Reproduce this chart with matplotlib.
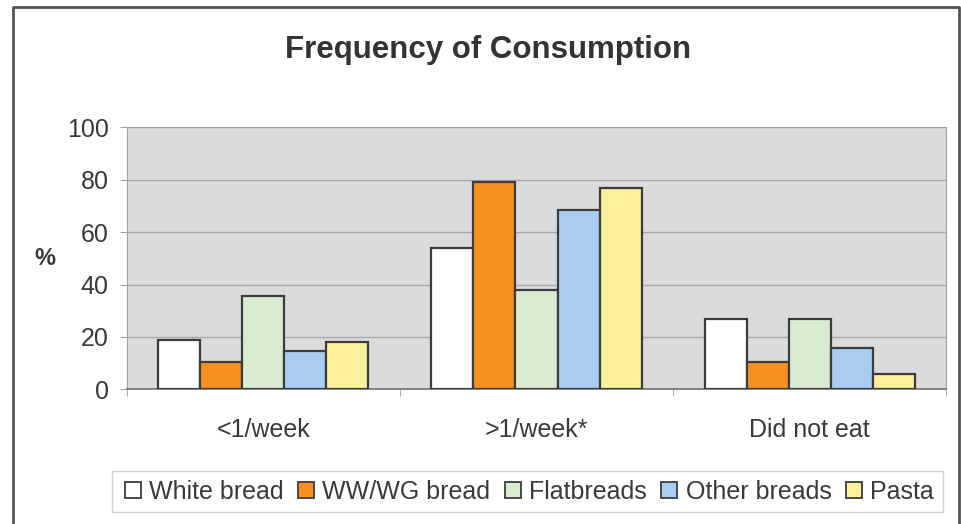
import matplotlib.pyplot as plt
import numpy as np
from matplotlib.lines import Line2D

plt.rcParams['font.family'] = ['Liberation Sans', 'DejaVu Sans']

categories = ['<1/week', '>1/week*', 'Did not eat']
series = ['White bread', 'WW/WG bread', 'Flatbreads', 'Other breads', 'Pasta']
white_bread = [19, 54, 27]
ww_wg_bread = [10.5, 79, 10.5]
flatbreads = [35.5, 38, 27]
other_breads = [14.8, 68.5, 15.7]
pasta = [18, 76.8, 5.8]
values = [white_bread, ww_wg_bread, flatbreads, other_breads, pasta]
colors = ['#ffffff', '#f7901e', '#d9ebd1', '#a8cdef', '#fbf09c']

text_col = '#3a3a3a'

fig = plt.figure(figsize=(9.62, 5.24), dpi=100)
ax = fig.add_axes([0.1317, 0.257, 0.852, 0.5])
ax.set_facecolor('#dcdbdb')

x = np.arange(len(categories))
w = 0.154
for j, (name, vals, c) in enumerate(zip(series, values, colors)):
    ax.bar(x + (j - 2) * w, vals, width=w, color=c, edgecolor='#3c3c3c',
           linewidth=1.6, label=name, zorder=3)

ax.set_xlim(-0.5, 2.5)
ax.set_ylim(0, 100)
ax.set_yticks(range(0, 101, 20))
ax.yaxis.grid(True, color='#a9a9a9', linewidth=1.0, zorder=0)
ax.set_xticks(x)
ax.set_xticklabels(categories, fontsize=18, color=text_col)
ax.set_xticks([-0.5, 0.5, 1.5, 2.5], minor=True)
ax.tick_params(axis='x', which='major', length=0, pad=21)
ax.tick_params(axis='x', which='minor', length=5, color='#a0a0a0')
ax.tick_params(axis='y', length=5, color='#a0a0a0', labelsize=18,
               labelcolor=text_col, pad=8)
for s in ['top', 'right', 'left']:
    ax.spines[s].set_color('#a0a0a0')
ax.spines['bottom'].set_color('#707070')
ax.spines['bottom'].set_linewidth(1.2)

ax.set_ylabel('%', rotation=0, fontsize=17, fontweight='bold',
              color=text_col, labelpad=16, va='center')

fig.text(0.507, 1 - 58 / 524, 'Frequency of Consumption', ha='center',
         va='baseline', fontsize=22.5, fontweight='bold', color='#333333')

handles = [Line2D([], [], marker='s', linestyle='none', markersize=11,
                  markerfacecolor=c, markeredgecolor='#3c3c3c',
                  markeredgewidth=1.3) for c in colors]
leg = fig.legend(handles, series, loc='center', bbox_to_anchor=(0.548, 0.062),
                 ncol=5, fontsize=18, frameon=True, fancybox=False,
                 handlelength=1.0, handletextpad=0.15, columnspacing=0.4,
                 borderpad=0.35, labelcolor=text_col)
leg.get_frame().set_edgecolor('#c8c8c8')
leg.get_frame().set_linewidth(1.0)

# outer chart border
left, right, top = 13 / 962, 959 / 962, 1 - 7 / 524
fig.add_artist(Line2D([left, left, right, right], [0, top, top, 0],
                      color='#555555', linewidth=2.0, transform=fig.transFigure))

fig.savefig('out.png', dpi=100)
